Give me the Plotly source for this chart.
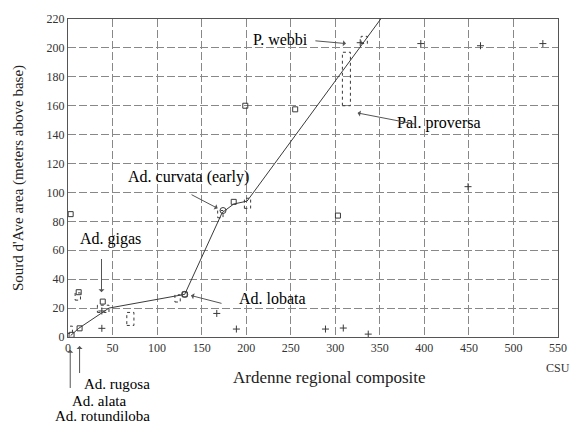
import plotly.graph_objects as go

# Line of correlation
line_x = [3, 12, 46, 131, 173, 186, 201, 351]
line_y = [1, 6, 20, 29.5, 86, 92, 94, 220]

# Open squares (solid)
sq_x = [4, 13, 39, 3, 186, 199, 255, 303, 131, 12]
sq_y = [1.5, 6, 24.5, 85, 93.5, 160, 157.5, 84, 29.5, 31]

# Open circles
circ_x = [174, 131]
circ_y = [87.5, 29.5]

# Plus signs
plus_x = [38, 38, 167, 189, 289, 309, 337, 396, 463, 533, 449, 328]
plus_y = [6, 18, 16.3, 5.5, 5.5, 6.2, 2, 203, 201.5, 203, 104, 203.6]

# Small dashed squares
dsq_x = [11, 2, 123, 171]
dsq_y = [28, 5, 26.7, 85]

# Dashed range boxes: x0, x1, y0, y1
box_x0 = [33, 66, 198, 308, 329]
box_x1 = [46, 74, 205, 317, 336]
box_y0 = [17, 8, 89, 160, 203]
box_y1 = [22, 17, 96, 197, 208]

# Labels inside plot: text, x, y
lab_text = ["P. webbi", "Pal. proversa", "Ad. curvata (early)", "Ad. gigas", "Ad. lobata"]
lab_x = [238, 416, 135, 48, 229]
lab_y = [206, 148, 111, 67.6, 26.6]

# Arrows inside plot: tail (ax, ay) -> head (x, y)
arr_ax = [276, 392, 137, 37.6, 174]
arr_ay = [205, 147, 99, 55, 23]
arr_hx = [312, 325, 168, 37.6, 138]
arr_hy = [203, 155, 89, 31, 28.7]

# Arrows below axis (y in axis-domain fraction)
low_x = [13, 2.5, -0.5]
low_tail = [-0.118, -0.165, -0.165]
low_head = [-0.028, -0.040, -0.045]

low_text = ["Ad. rugosa", "Ad. alata", "Ad. rotundiloba"]
low_tx = [55, 35, 39]
low_ty = [-0.149, -0.202, -0.248]

x_ticks = [0, 50, 100, 150, 200, 250, 300, 350, 400, 450, 500, 550]
y_ticks = [0, 20, 40, 60, 80, 100, 120, 140, 160, 180, 200, 220]

INK = "#3a3a3a"
FONT = "Liberation Serif"

fig = go.Figure()
fig.add_trace(go.Scatter(x=line_x, y=line_y, mode="lines",
                         line=dict(color=INK, width=1), hoverinfo="skip"))
fig.add_trace(go.Scatter(x=sq_x, y=sq_y, mode="markers",
                         marker=dict(symbol="square-open", size=5, color=INK, line=dict(width=1))))
fig.add_trace(go.Scatter(x=circ_x, y=circ_y, mode="markers",
                         marker=dict(symbol="circle-open", size=6, color=INK, line=dict(width=1))))
fig.add_trace(go.Scatter(x=plus_x, y=plus_y, mode="markers",
                         marker=dict(symbol="cross-thin-open", size=5, color=INK, line=dict(width=1, color=INK))))

for bx, by in zip(dsq_x, dsq_y):
    fig.add_shape(type="rect", xref="x", yref="y", x0=bx - 3, x1=bx + 3, y0=by - 2.5, y1=by + 2.5,
                  line=dict(color=INK, width=1, dash="dot"))
for x0, x1, y0, y1 in zip(box_x0, box_x1, box_y0, box_y1):
    fig.add_shape(type="rect", xref="x", yref="y", x0=x0, x1=x1, y0=y0, y1=y1,
                  line=dict(color=INK, width=1, dash="dot"))

for t, x, y in zip(lab_text, lab_x, lab_y):
    fig.add_annotation(text=t, x=x, y=y, xref="x", yref="y", showarrow=False,
                       xanchor="center", yanchor="middle",
                       font=dict(family=FONT, size=16, color="#000"))
for ax, ay, hx, hy in zip(arr_ax, arr_ay, arr_hx, arr_hy):
    fig.add_annotation(text="", x=hx, y=hy, ax=ax, ay=ay, xref="x", yref="y",
                       axref="x", ayref="y", showarrow=True, arrowhead=1,
                       arrowsize=1, arrowwidth=1, arrowcolor="#555")
for x, t, h in zip(low_x, low_tail, low_head):
    fig.add_annotation(text="", x=x, y=h, ax=x, ay=t, xref="x", yref="y domain",
                       axref="x", ayref="y domain", showarrow=True, arrowhead=1,
                       arrowsize=1, arrowwidth=1, arrowcolor="#555")
for t, x, y in zip(low_text, low_tx, low_ty):
    fig.add_annotation(text=t, x=x, y=y, xref="x", yref="y domain", showarrow=False,
                       xanchor="center", yanchor="middle",
                       font=dict(family=FONT, size=15, color="#000"))

fig.add_annotation(text="CSU", x=1.0, y=-0.096, xref="paper", yref="paper", showarrow=False,
                   xanchor="center", yanchor="middle",
                   font=dict(family=FONT, size=12, color="#333"))
# x-axis title (offset to the right as in the original)
fig.add_annotation(text="Ardenne regional composite", x=0.533, y=-0.128, xref="paper", yref="paper",
                   showarrow=False, xanchor="center", yanchor="middle",
                   font=dict(family=FONT, size=17, color="#222"))

grid = dict(showgrid=True, gridcolor="#888", griddash="8px,3px", gridwidth=1,
            showline=True, linecolor="#555", linewidth=1, mirror=True,
            zeroline=False, ticks="", tickfont=dict(family=FONT, size=12, color="#333"))

fig.update_xaxes(range=[0, 550], tickvals=x_ticks, ticktext=[str(v) for v in x_ticks], **grid)
fig.update_yaxes(range=[0, 220], tickvals=y_ticks, ticktext=[str(v) for v in y_ticks],
                 title=dict(text="Sourd d'Ave area (meters above base)", standoff=19,
                            font=dict(family=FONT, size=15, color="#222")), **grid)

fig.update_layout(width=579, height=426, margin=dict(l=68, r=14, t=15, b=89),
                  showlegend=False, plot_bgcolor="white", paper_bgcolor="white")

fig.write_html("out.html")
